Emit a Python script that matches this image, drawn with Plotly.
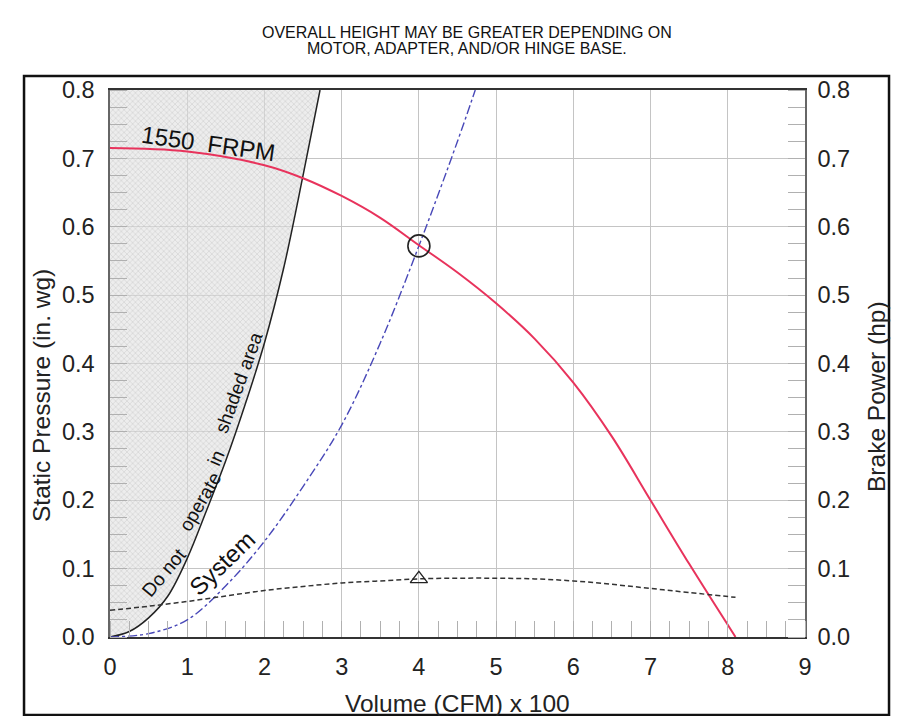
import plotly.graph_objects as go

# ---------------- data ----------------
# "Do not operate" boundary (static pressure, in. wg) vs volume (CFM x 100)
limit_x = [0.0, 0.25, 0.5, 0.75, 1.0, 1.25, 1.5, 1.75, 2.0, 2.25, 2.5, 2.72]
limit_y = [0.0, 0.008, 0.028, 0.06, 0.115, 0.185, 0.258, 0.34, 0.43, 0.54, 0.675, 0.80]

# Fan curve 1550 FRPM (static pressure)
fan_x = [0.0, 1.0, 2.0, 2.5, 3.0, 3.5, 4.0, 4.5, 5.0, 5.5, 6.0, 6.5, 7.0, 7.5, 8.1]
fan_y = [0.715, 0.71, 0.69, 0.671, 0.645, 0.613, 0.573, 0.533, 0.488, 0.436, 0.372, 0.293, 0.20, 0.107, 0.0]

# System curve (static pressure)
sys_x = [0.0, 0.5, 1.0, 1.5, 2.0, 2.5, 3.0, 3.5, 4.0, 4.5, 4.73]
sys_y = [0.0, 0.005, 0.025, 0.075, 0.14, 0.22, 0.31, 0.43, 0.572, 0.725, 0.80]

# Brake power curve (hp)
bhp_x = [0.0, 0.5, 1.0, 1.5, 2.0, 2.5, 3.0, 3.5, 4.0, 4.5, 5.0, 5.5, 6.0, 6.5, 7.0, 7.5, 8.1]
bhp_y = [0.039, 0.045, 0.052, 0.06, 0.068, 0.074, 0.079, 0.082, 0.085, 0.086, 0.086, 0.085, 0.082, 0.077, 0.071, 0.065, 0.058]

# Operating point
op_x = [4.0]
op_pressure = [0.572]
op_power = [0.085]

x_ticks = [0, 1, 2, 3, 4, 5, 6, 7, 8, 9]
y_ticks = [0.0, 0.1, 0.2, 0.3, 0.4, 0.5, 0.6, 0.7, 0.8]

FONT = "Arial, Liberation Sans, sans-serif"

fig = go.Figure()

# "do not operate" boundary with the shaded region to its left (filled to x = 0)
fig.add_trace(go.Scatter(
    x=limit_x, y=limit_y, mode="lines", fill="tozerox",
    line=dict(color="#222222", width=1.5, shape="spline", smoothing=1),
    fillcolor="rgba(215,215,215,0.6)",
    fillpattern=dict(shape="x", size=4, solidity=0.3,
                     fgcolor="rgba(160,160,160,0.75)", bgcolor="rgba(225,225,225,0.6)"),
    hoverinfo="skip", showlegend=False))

fig.add_trace(go.Scatter(x=sys_x, y=sys_y, mode="lines",
                         line=dict(color="#4848b8", width=1.4, dash="dashdot", shape="spline", smoothing=1),
                         showlegend=False))

fig.add_trace(go.Scatter(x=fan_x, y=fan_y, mode="lines",
                         line=dict(color="#e8335c", width=2, shape="spline", smoothing=1),
                         showlegend=False))

fig.add_trace(go.Scatter(x=bhp_x, y=bhp_y, mode="lines", yaxis="y2",
                         line=dict(color="#333333", width=1.5, dash="5px,3px", shape="spline", smoothing=1),
                         showlegend=False))

fig.add_trace(go.Scatter(x=op_x, y=op_pressure, mode="markers",
                         marker=dict(symbol="circle-open", size=22, color="#222222", line=dict(width=1.6)),
                         showlegend=False))
fig.add_trace(go.Scatter(x=op_x, y=op_power, mode="markers", yaxis="y2",
                         marker=dict(symbol="triangle-up-open", size=15, color="#222222", line=dict(width=1.3)),
                         showlegend=False))

tickfont = dict(family=FONT, size=23.5, color="#222222")
minor_y = dict(dtick=0.025, ticks="inside", ticklen=17, tickcolor="#b0b0b0", tickwidth=1, showgrid=False)

fig.update_layout(
    width=906, height=716,
    margin=dict(l=110, r=101, t=90, b=79),
    paper_bgcolor="white", plot_bgcolor="white",
    font=dict(family=FONT, color="#222222"),
    showlegend=False,
    xaxis=dict(range=[0, 9], tickvals=x_ticks, ticktext=[str(v) for v in x_ticks],
               showgrid=True, gridcolor="#c4c4c4", gridwidth=1.2,
               showline=True, linecolor="#333333", linewidth=2, mirror=True,
               ticks="", tickfont=tickfont, ticklabelstandoff=8,
               minor=dict(dtick=0.25, ticks="inside", ticklen=16, tickcolor="#b0b0b0", tickwidth=1, showgrid=False),
               zeroline=False),
    yaxis=dict(range=[0, 0.8], tickvals=y_ticks, ticktext=[f"{v:.1f}" for v in y_ticks],
               showgrid=True, gridcolor="#c4c4c4", gridwidth=1.2,
               showline=True, linecolor="#666666", linewidth=1.5, mirror=True,
               ticks="", tickfont=tickfont, ticklabelstandoff=9,
               minor=minor_y, zeroline=False),
    yaxis2=dict(range=[0, 0.8], overlaying="y", side="right",
                tickvals=y_ticks, ticktext=[f"{v:.1f}" for v in y_ticks],
                showgrid=False, showline=True, linecolor="#666666", linewidth=1.5,
                ticks="", tickfont=tickfont, ticklabelstandoff=6,
                minor=minor_y, zeroline=False),
)

annotations = [
    dict(text="OVERALL HEIGHT MAY BE GREATER DEPENDING ON", x=0.5137, y=1.106, xref="paper", yref="paper",
         showarrow=False, font=dict(size=16, family=FONT, color="#111111"), xanchor="center", yanchor="middle"),
    dict(text="MOTOR, ADAPTER, AND/OR HINGE BASE.", x=0.5137, y=1.075, xref="paper", yref="paper",
         showarrow=False, font=dict(size=16, family=FONT, color="#111111"), xanchor="center", yanchor="middle"),
    dict(text="Static Pressure (in. wg)", x=-0.0978, y=0.4406, xref="paper", yref="paper", textangle=-90,
         showarrow=False, font=dict(size=24.5, family=FONT, color="#222222"), xanchor="center", yanchor="middle"),
    dict(text="Brake Power (hp)", x=1.1036, y=0.4388, xref="paper", yref="paper", textangle=-90,
         showarrow=False, font=dict(size=24.5, family=FONT, color="#222222"), xanchor="center", yanchor="middle"),
    dict(text="Volume (CFM) x 100", x=0.4993, y=-0.1207, xref="paper", yref="paper",
         showarrow=False, font=dict(size=24.5, family=FONT, color="#222222"), xanchor="center", yanchor="middle"),
    dict(text="1550\u00a0\u00a0FRPM", x=1.27, y=0.722, xref="x", yref="y", textangle=8,
         showarrow=False, font=dict(size=24, family=FONT, color="#111111"), xanchor="center", yanchor="middle"),
    dict(text="System", x=1.446, y=0.108, xref="x", yref="y", textangle=-44,
         showarrow=False, font=dict(size=24, family=FONT, color="#111111"), xanchor="center", yanchor="middle"),
    dict(text="Do not", x=0.70, y=0.094, xref="x", yref="y", textangle=-50,
         showarrow=False, font=dict(size=19, family=FONT, color="#111111"), xanchor="center", yanchor="middle"),
    dict(text="operate", x=1.17, y=0.198, xref="x", yref="y", textangle=-60,
         showarrow=False, font=dict(size=19, family=FONT, color="#111111"), xanchor="center", yanchor="middle"),
    dict(text="in", x=1.38, y=0.262, xref="x", yref="y", textangle=-66,
         showarrow=False, font=dict(size=19, family=FONT, color="#111111"), xanchor="center", yanchor="middle"),
    dict(text="shaded area", x=1.67, y=0.372, xref="x", yref="y", textangle=-70,
         showarrow=False, font=dict(size=19, family=FONT, color="#111111"), xanchor="center", yanchor="middle"),
]
fig.update_layout(annotations=annotations)

# outer frame
fig.add_shape(type="rect", xref="paper", yref="paper",
              x0=-0.1237, x1=1.1209, y0=-0.1426, y1=1.0256,
              line=dict(color="#111111", width=2.5), fillcolor="rgba(0,0,0,0)", layer="above")

fig.write_html("out.html", config={"displayModeBar": False},
               post_script="document.body.style.margin='0px';document.body.style.overflow='hidden';")
